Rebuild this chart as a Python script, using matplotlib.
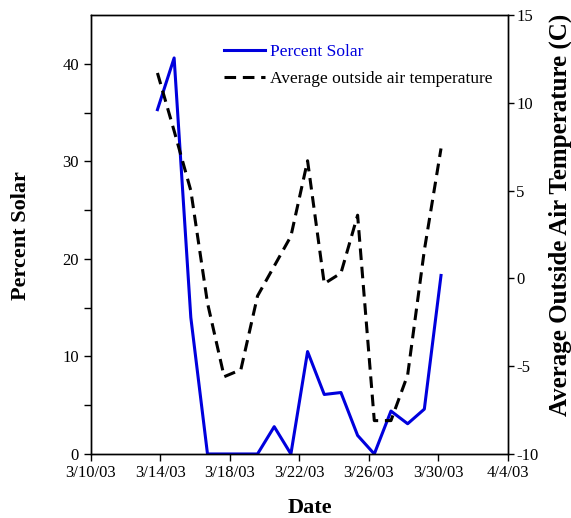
"""Percent solar vs average outside air temperature, March 2003."""
import matplotlib

matplotlib.use("Agg")
import matplotlib.dates as mdates
import matplotlib.pyplot as plt
import numpy as np
import pandas as pd

plt.rcParams["font.family"] = ["Liberation Serif", "DejaVu Serif"]
plt.rcParams["axes.unicode_minus"] = False

dates = pd.date_range("2003-03-14", "2003-03-31", freq="D")
percent_solar = [35.3, 40.6, 14.0, 0.0, 0.0, 0.0, 0.0, 2.8, 0.0, 10.5,
                 6.1, 6.3, 1.9, 0.0, 4.4, 3.1, 4.6, 18.3]
air_temp = [11.7, 8.4, 5.0, -1.4, -5.6, -5.2, -1.0, 0.7, 2.4, 6.7,
            -0.3, 0.3, 3.6, -8.1, -8.1, -5.5, 1.6, 7.4]

x_start, x_end = pd.Timestamp("2003-03-10"), pd.Timestamp("2003-04-04")
x_tick_labels = ["3/10/03", "3/14/03", "3/18/03", "3/22/03", "3/26/03", "3/30/03", "4/4/03"]
solar_ticks = [0, 10, 20, 30, 40]
solar_minor = [5, 15, 25, 35]
temp_ticks = [-10, -5, 0, 5, 10, 15]

BLUE = "#0000dd"
W, H = 571, 518

fig = plt.figure(figsize=(W / 100, H / 100), dpi=100)
ax = fig.add_axes([0.1589, 0.1236, 0.7303, 0.8474])
ax2 = ax.twinx()

l1, = ax.plot(dates, percent_solar, color=BLUE, lw=2.2, label="Percent Solar")
l2, = ax2.plot(dates, air_temp, color="black", lw=2.2, dashes=(3.8, 2.2),
               label="Average outside air temperature")

x0, x1 = mdates.date2num(x_start), mdates.date2num(x_end)
ax.set_xlim(x0, x1)
ax.set_xticks(np.linspace(x0, x1, len(x_tick_labels)))
ax.set_xticklabels(x_tick_labels)

ax.set_ylim(0, 45)
ax.set_yticks(solar_ticks)
ax.set_yticks(solar_minor, minor=True)
ax2.set_ylim(-10, 15)
ax2.set_yticks(temp_ticks)

for a in (ax, ax2):
    a.tick_params(which="both", direction="out", length=5, width=1,
                  labelsize=12, colors="black")
ax.tick_params(axis="x", top=False, pad=3)
ax2.tick_params(axis="y", length=4, pad=2)
for s in list(ax.spines.values()) + list(ax2.spines.values()):
    s.set_linewidth(1)

# axis titles placed in pixels, as in the reference
fig.text(310 / W, 1 - 513 / H, "Date", fontsize=16, fontweight="bold",
         ha="center", va="baseline")
fig.text(21 / W, 1 - 235.5 / H, "Percent Solar", fontsize=16,
         fontweight="bold", rotation=90, ha="center", va="center")
fig.text(560 / W, 1 - 215 / H, "Average Outside Air Temperature (C)",
         fontsize=18, fontweight="bold", rotation=90, ha="center", va="center")

ax2.legend([l1, l2], [l1.get_label(), l2.get_label()], loc="upper left",
           bbox_to_anchor=(0.281, 0.969), frameon=False, fontsize=12.5,
           handlelength=2.37, handletextpad=0.3, labelspacing=0.62,
           labelcolor="linecolor")

fig.savefig("out.png", dpi=100)
